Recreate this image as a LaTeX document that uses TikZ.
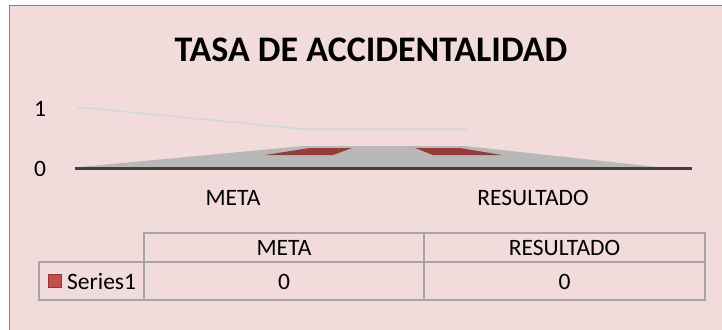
\documentclass[tikz,border=0pt]{standalone}
\usepackage{fontspec}
\setmainfont{Carlito}
\definecolor{chartbg}{HTML}{F2DCDB}
\definecolor{chartframe}{HTML}{D0605E}
\definecolor{floorgrey}{HTML}{B8B8B8}
\definecolor{axisdark}{HTML}{404040}
\definecolor{barred}{HTML}{953B39}
\definecolor{gridgrey}{HTML}{D2D8D9}
\definecolor{tablegrey}{HTML}{A6A6A6}
\definecolor{keyred}{HTML}{C0504D}
\definecolor{keyedge}{HTML}{943634}
\begin{document}
\begin{tikzpicture}[x=1pt, y=-1pt,
    lbl/.style = {anchor=base, inner sep=0pt, font=\fontsize{23.5}{27}\selectfont},
    tbl/.style = {draw=tablegrey, line width=1.5pt}]
            \useasboundingbox (0,0) rectangle (722,329);
            \fill[chartbg] (9,6) rectangle (726,333);
            \draw[chartframe, line width=1pt] (9,333) -- (9,6) -- (726,6);

            % title
            \node[anchor=base, inner sep=0pt, font=\fontsize{36}{40}\selectfont\bfseries] (title) at (371,62) {TASA DE ACCIDENTALIDAD};

            % value axis
            \node[lbl] (v1) at (40,116) {1};
            \node[lbl] (v0) at (40,176) {0};

            % gridline and floor
            \draw[gridgrey, line width=1.5pt] (77,107) -- (303,129) -- (467,129);
            \fill[floorgrey] (80,167) -- (303,146) -- (465,146) -- (657,167) -- cycle;
            \fill[barred] (265,155) -- (310,148) -- (352,148) -- (333,155) -- cycle;
            \fill[barred] (415,148) -- (460,148) -- (502,155) -- (433,155) -- cycle;
            \draw[axisdark, line width=3pt] (75,168.5) -- (692,168.5);

            % category axis
            \node[lbl] (c1) at (233,205) {META};
            \node[lbl] (c2) at (533,205) {RESULTADO};

            % data table
            \draw[tbl] (144,300) -- (144,233) -- (705,233) -- (705,300) -- (39,300) -- (39,262) -- (705,262);
            \draw[tbl] (424,233) -- (424,300);
            \node[lbl] (h1) at (284,255) {META};
            \node[lbl] (h2) at (564.5,255) {RESULTADO};
            \node[draw=keyedge, fill=keyred, line width=1pt, minimum size=13pt, inner sep=0pt] (key) at (55,281) {};
            \node[lbl, anchor=base west] (s1) at (67,289) {Series1};
            \node[lbl] (d1) at (284,289) {0};
            \node[lbl] (d2) at (564.5,289) {0};
        \end{tikzpicture}
\end{document}
